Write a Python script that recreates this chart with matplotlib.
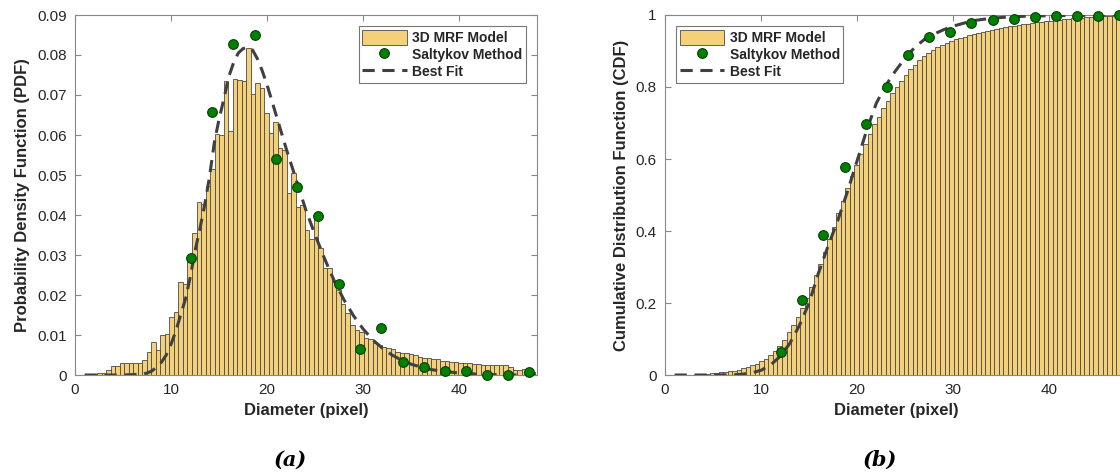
"""PDF and CDF of grain diameter: 3D MRF model vs Saltykov method"""

import numpy as np
import matplotlib.pyplot as plt
from matplotlib.patches import Patch
from matplotlib.lines import Line2D

# Histogram of the 3D MRF model (100 bins, 0.9 .. 47.9 px)
bin_edges = np.linspace(0.9, 47.9, 101)
pdf_model = [
    0.0000, 0.0001, 0.0002, 0.0004, 0.0005, 0.0013, 0.0023, 0.0023, 0.0029, 0.0029,
    0.0029, 0.0030, 0.0031, 0.0037, 0.0057, 0.0082, 0.0063, 0.0099, 0.0102, 0.0144,
    0.0158, 0.0233, 0.0227, 0.0296, 0.0354, 0.0433, 0.0428, 0.0473, 0.0514, 0.0602,
    0.0600, 0.0735, 0.0610, 0.0741, 0.0738, 0.0735, 0.0817, 0.0702, 0.0729, 0.0718,
    0.0654, 0.0604, 0.0632, 0.0567, 0.0562, 0.0454, 0.0504, 0.0421, 0.0426, 0.0362,
    0.0340, 0.0390, 0.0318, 0.0268, 0.0267, 0.0233, 0.0212, 0.0177, 0.0154, 0.0125,
    0.0113, 0.0108, 0.0092, 0.0090, 0.0079, 0.0075, 0.0071, 0.0067, 0.0064, 0.0058,
    0.0056, 0.0054, 0.0052, 0.0050, 0.0046, 0.0042, 0.0042, 0.0040, 0.0039, 0.0036,
    0.0036, 0.0033, 0.0032, 0.0031, 0.0029, 0.0029, 0.0028, 0.0028, 0.0025, 0.0024,
    0.0024, 0.0025, 0.0024, 0.0024, 0.0020, 0.0013, 0.0013, 0.0014, 0.0011, 0.0008,
]

# Saltykov method points
salt_d = [12.1, 14.3, 16.5, 18.7, 20.9, 23.1, 25.3, 27.5, 29.7, 31.9,
          34.1, 36.3, 38.5, 40.7, 42.9, 45.1, 47.3]
salt_pdf = [0.0292, 0.0658, 0.0827, 0.0850, 0.0540, 0.0471, 0.0398, 0.0228, 0.0066, 0.0117,
            0.0033, 0.0021, 0.0011, 0.0011, 0.0000, 0.0000, 0.0007]
salt_cdf = [0.063, 0.208, 0.390, 0.577, 0.696, 0.800, 0.889, 0.938, 0.952, 0.978,
            0.986, 0.990, 0.995, 0.997, 0.997, 0.997, 0.999]

# Best fit curves
fit_d = [1, 3, 5, 7, 7.5, 8, 8.5, 9, 9.5, 10, 10.5, 11, 11.5, 12, 12.5, 13, 13.5, 14,
         14.5, 15, 15.5, 16, 16.5, 17, 17.5, 18, 18.5, 19, 19.5, 20, 20.5, 21, 22, 23,
         24, 25, 26, 27, 28, 29, 30, 31, 32, 33, 34, 35, 36, 37, 38, 40, 42, 44, 46, 48]
fit_pdf = [0, 0, 0, 0.0002, 0.0005, 0.0010, 0.0020, 0.0032, 0.0050, 0.0077, 0.0110,
           0.0150, 0.0190, 0.0245, 0.0310, 0.0365, 0.0425, 0.0495, 0.0580, 0.0640,
           0.0690, 0.0745, 0.0780, 0.0805, 0.0816, 0.0820, 0.0812, 0.0790, 0.0760,
           0.0725, 0.0685, 0.0645, 0.0565, 0.0490, 0.0415, 0.0350, 0.0290, 0.0235,
           0.0188, 0.0148, 0.0115, 0.0088, 0.0067, 0.0050, 0.0037, 0.0027, 0.0020,
           0.0014, 0.0010, 0.0005, 0.0002, 0.0001, 0.0, 0.0]
fitc_d = [1, 5, 7, 8, 9, 10, 11, 12, 13, 14, 15, 16, 17, 18, 19, 20, 21, 22, 23, 24,
          25, 26, 27, 28, 29, 30, 32, 34, 36, 38, 40, 44, 48]
fit_cdf = [0, 0, 0.0005, 0.002, 0.006, 0.013, 0.028, 0.052, 0.088, 0.138, 0.200, 0.285,
           0.360, 0.430, 0.510, 0.595, 0.680, 0.755, 0.805, 0.845, 0.880, 0.910, 0.932,
           0.947, 0.959, 0.969, 0.984, 0.991, 0.995, 0.997, 0.998, 0.999, 1.0]

BAR_FACE = '#F4D079'
BAR_EDGE = '#4a4a4a'
DOT_FACE = '#008000'
DOT_EDGE = '#0b3d0b'
FIT_COL = '#404040'
TXT = '#262626'

plt.rcParams['font.family'] = ['Liberation Sans', 'DejaVu Sans']

widths = np.diff(bin_edges)
pdf_arr = np.array(pdf_model)
cdf_model = np.cumsum(pdf_arr * widths)
cdf_model = cdf_model / cdf_model[-1]

fig = plt.figure(figsize=(11.2, 4.73), dpi=100)
ax1 = fig.add_axes([75 / 1120, 98 / 473, 462 / 1120, 360 / 473])
ax2 = fig.add_axes([665 / 1120, 98 / 473, 462 / 1120, 360 / 473])


def draw_panel(ax, heights, salt_y, fx, fy, ylab, loc):
    ax.bar(bin_edges[:-1], heights, width=widths, align='edge', color=BAR_FACE,
           edgecolor=BAR_EDGE, linewidth=0.6, zorder=2)
    ax.plot(fx, fy, color=FIT_COL, lw=2.2, dashes=(4, 2.5), zorder=3)
    ax.plot(salt_d, salt_y, 'o', ms=7, mfc=DOT_FACE, mec=DOT_EDGE, mew=0.8,
            zorder=4, clip_on=False)
    ax.set_xlim(0, 48.1)
    ax.set_xticks([0, 10, 20, 30, 40])
    ax.tick_params(direction='in', length=4, width=0.8, top=True, right=True,
                   colors='#888888', labelcolor=TXT, labelsize=11, pad=6)
    for s in ax.spines.values():
        s.set_color('#888888')
        s.set_linewidth(0.8)
    ax.set_xlabel('Diameter (pixel)', fontsize=12, fontweight='bold', color=TXT, labelpad=4)
    ax.set_ylabel(ylab, fontsize=12, fontweight='bold', color=TXT, labelpad=5)

    handles = [Patch(facecolor=BAR_FACE, edgecolor=BAR_EDGE, linewidth=0.6),
               Line2D([], [], ls='none', marker='o', ms=7, mfc=DOT_FACE, mec=DOT_EDGE, mew=0.8),
               Line2D([], [], color=FIT_COL, lw=2.2, dashes=(4, 2.5))]
    leg = ax.legend(handles, ['3D MRF Model', 'Saltykov Method', 'Best Fit'], loc=loc,
                    prop={'weight': 'bold', 'size': 10}, handlelength=3.2, handleheight=1.3,
                    handletextpad=0.4, labelspacing=0.15, borderpad=0.25,
                    borderaxespad=0.8, fancybox=False, framealpha=1)
    leg.get_frame().set_edgecolor('#777777')
    leg.get_frame().set_linewidth(0.8)
    for t in leg.get_texts():
        t.set_color(TXT)


draw_panel(ax1, pdf_model, salt_pdf, fit_d, fit_pdf,
           'Probability Density Function (PDF)', 'upper right')
ax1.set_ylim(0, 0.09)
ax1.set_yticks(np.arange(0, 0.0901, 0.01))
ax1.set_yticklabels(['0'] + ['%.2f' % v for v in np.arange(0.01, 0.0901, 0.01)])

draw_panel(ax2, cdf_model, salt_cdf, fitc_d, fit_cdf,
           'Cumulative Distribution Function (CDF)', 'upper left')
ax2.set_ylim(0, 1)
ax2.set_yticks([0, 0.2, 0.4, 0.6, 0.8, 1])
ax2.set_yticklabels(['0', '0.2', '0.4', '0.6', '0.8', '1'])

fig.text(290 / 1120, 1 - 460 / 473, '(a)', ha='center', va='center', fontsize=15,
         fontweight='bold', fontstyle='italic', family='DejaVu Serif', color='black')
fig.text(880 / 1120, 1 - 460 / 473, '(b)', ha='center', va='center', fontsize=15,
         fontweight='bold', fontstyle='italic', family='DejaVu Serif', color='black')

fig.savefig('out.png', dpi=100)
